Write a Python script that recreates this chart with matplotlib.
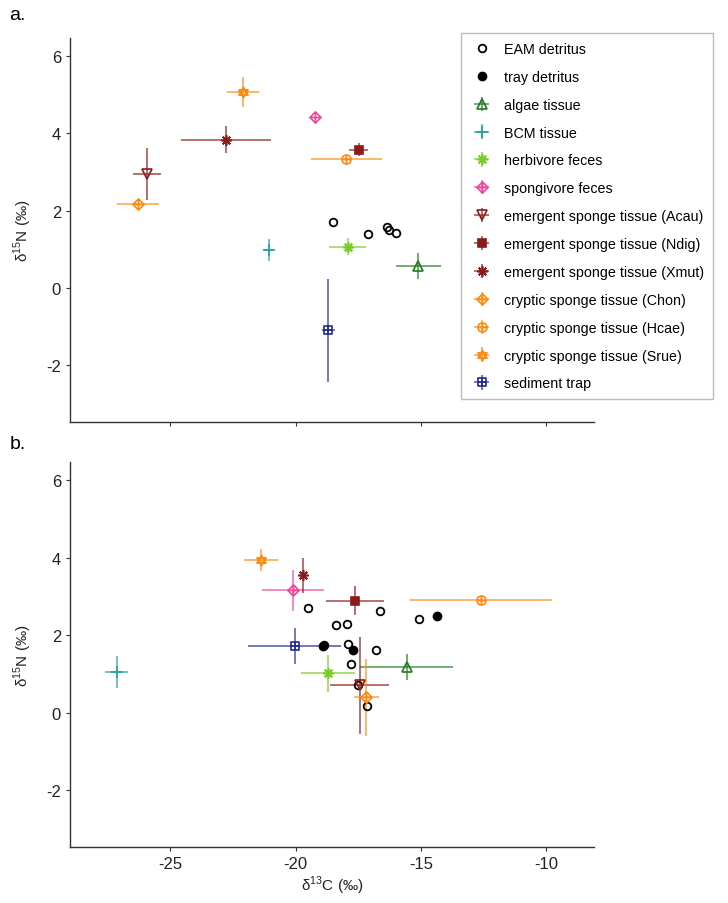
# d13C / d15N biplot, two panels

import numpy as np
import matplotlib
matplotlib.use("Agg")
import matplotlib.pyplot as plt
from matplotlib.path import Path
from matplotlib.lines import Line2D

plt.rcParams['font.family'] = ['Liberation Sans', 'DejaVu Sans']
plt.rcParams['mathtext.fontset'] = 'custom'
plt.rcParams['mathtext.rm'] = 'Liberation Sans'
plt.rcParams['axes.unicode_minus'] = False

groups = ["algae tissue", "BCM tissue", "herbivore feces", "spongivore feces",
          "emergent sponge tissue (Acau)", "emergent sponge tissue (Ndig)",
          "emergent sponge tissue (Xmut)", "cryptic sponge tissue (Chon)",
          "cryptic sponge tissue (Hcae)", "cryptic sponge tissue (Srue)",
          "sediment trap"]

# panel a: group means and sd
a_x = [-15.11, -21.08, -17.93, -19.23, -25.94, -17.48, -22.78, -26.29, -17.98, -22.10, -18.70]
a_y = [0.57, 0.98, 1.07, 4.42, 2.95, 3.58, 3.84, 2.16, 3.34, 5.06, -1.10]
a_xsd = [0.90, 0.19, 0.75, 0.0, 0.56, 0.38, 1.78, 0.85, 1.41, 0.62, 0.27]
a_ysd = [0.33, 0.28, 0.22, 0.0, 0.67, 0.16, 0.36, 0.05, 0.05, 0.39, 1.33]
a_eam_x = [-18.51, -17.10, -16.35, -16.28, -16.00]
a_eam_y = [1.70, 1.39, 1.57, 1.51, 1.41]
a_tray_x = []
a_tray_y = []

# panel b
b_x = [-15.58, -27.14, -18.71, -20.12, -17.45, -17.65, -19.72, -17.18, -12.60, -21.39, -20.04]
b_y = [1.17, 1.04, 1.01, 3.15, 0.70, 2.89, 3.54, 0.39, 2.91, 3.94, 1.72]
b_xsd = [1.87, 0.46, 1.07, 1.24, 1.18, 1.16, 0.08, 0.49, 2.83, 0.68, 1.86]
b_ysd = [0.33, 0.42, 0.47, 0.52, 1.25, 0.37, 0.45, 1.00, 0.05, 0.28, 0.47]
b_eam_x = [-19.52, -16.65, -18.41, -17.96, -18.87, -17.93, -16.81, -17.78, -17.50, -17.16, -15.10]
b_eam_y = [2.69, 2.62, 2.25, 2.28, 1.75, 1.77, 1.61, 1.24, 0.72, 0.17, 2.42]
b_tray_x = [-14.38, -18.91, -17.70]
b_tray_y = [2.49, 1.72, 1.62]

colors = ['#1f7a1f', '#22a0a0', '#78cc2a', '#f0479b', '#8b1a1a', '#8b1a1a',
          '#8b1a1a', '#ff8a10', '#ff8a10', '#ff8a10', '#1f2a8c']

M, L = Path.MOVETO, Path.LINETO
plus = Path([(-1, 0), (1, 0), (0, -1), (0, 1)], [M, L, M, L])
diamond_plus = Path.make_compound_path(
    Path([(0, 1), (1, 0), (0, -1), (-1, 0), (0, 1)], [M, L, L, L, Path.CLOSEPOLY]), plus)
circle_plus = Path.make_compound_path(Path.unit_circle(), plus)
square_plus = Path.make_compound_path(
    Path([(-1, -1), (1, -1), (1, 1), (-1, 1), (-1, -1)], [M, L, L, L, Path.CLOSEPOLY]), plus)
star_david = Path([(0, 1), (-0.87, -0.5), (0.87, -0.5), (0, 1),
                   (0, -1), (-0.87, 0.5), (0.87, 0.5), (0, -1)],
                  [M, L, L, Path.CLOSEPOLY, M, L, L, Path.CLOSEPOLY])

markers = ['^', '+', (8, 2, 0), diamond_plus, 'v', 's', (8, 2, 0),
           diamond_plus, circle_plus, star_david, square_plus]
filled = [False, False, False, False, False, True, False, False, False, True, False]
msize = [6.5, 9, 7.5, 8, 7, 5.2, 7.5, 8, 6.5, 7.5, 6]

fig = plt.figure(figsize=(7.28, 9.04), dpi=100)
ax_a = fig.add_axes([0.0962, 0.532, 0.7198, 0.425])
ax_b = fig.add_axes([0.0962, 0.062, 0.7198, 0.426])


def draw(ax, xs, ys, xsd, ysd, ex, ey, tx, ty):
    handles = []
    h, = ax.plot(ex, ey, 'o', ms=5.5, mfc='none', mec='black', mew=1.3, ls='none', zorder=4)
    handles.append(h)
    h, = ax.plot(tx, ty, 'o', ms=6, mfc='black', mec='black', ls='none', zorder=4)
    handles.append(h)
    for i in range(len(groups)):
        c = colors[i]
        eb = ax.errorbar(xs[i], ys[i], xerr=xsd[i], yerr=ysd[i], fmt='none',
                         ecolor=c, elinewidth=1.1, alpha=0.8, capsize=0, zorder=2)
        ax.plot(xs[i], ys[i], marker=markers[i], ms=msize[i], color=c,
                mfc=c if filled[i] else 'none', mec=c, mew=1.2, ls='none', zorder=5)
        handles.append(eb)
    ax.set_xlim(-29, -8.1)
    ax.set_ylim(-3.47, 6.47)
    ax.set_xticks([-25, -20, -15, -10])
    ax.set_yticks([-2, 0, 2, 4, 6])
    ax.spines['top'].set_visible(False)
    ax.spines['right'].set_visible(False)
    for s in ['left', 'bottom']:
        ax.spines[s].set_color('#333333')
        ax.spines[s].set_linewidth(1.0)
    ax.tick_params(direction='out', length=3, width=0.8, color='#333333',
                   labelsize=12, labelcolor='#222222')
    ax.set_ylabel('δ$^{15}$N (‰)', fontsize=11, color='#222222')
    ax.yaxis.set_label_coords(-0.068, 0.5)
    return handles


ha = draw(ax_a, a_x, a_y, a_xsd, a_ysd, a_eam_x, a_eam_y, a_tray_x, a_tray_y)
ax_a.tick_params(axis='x', labelbottom=False)

draw(ax_b, b_x, b_y, b_xsd, b_ysd, b_eam_x, b_eam_y, b_tray_x, b_tray_y)
ax_b.set_xlabel('δ$^{13}$C (‰)', fontsize=11, color='#222222', labelpad=2)

# legend handles with markers on top of error bars
leg_handles = ha[:2]
for i in range(len(groups)):
    c = colors[i]
    mk = Line2D([], [], marker=markers[i], ms=msize[i], color=c,
                mfc=c if filled[i] else 'none', mec=c, mew=1.2, ls='none')
    leg_handles.append((ha[2 + i], mk))

fig.legend(leg_handles, ["EAM detritus", "tray detritus"] + groups,
           loc='upper left', bbox_to_anchor=(0.633, 0.962), fontsize=10.3,
           frameon=True, fancybox=False, edgecolor='#bbbbbb', framealpha=1,
           labelspacing=0.97, handlelength=1.7, handletextpad=0.75,
           borderpad=0.6, borderaxespad=0)

fig.text(0.013, 0.983, 'a.', fontsize=14, va='center')
fig.text(0.013, 0.508, 'b.', fontsize=14, va='center')

fig.savefig('out.png', dpi=100)
